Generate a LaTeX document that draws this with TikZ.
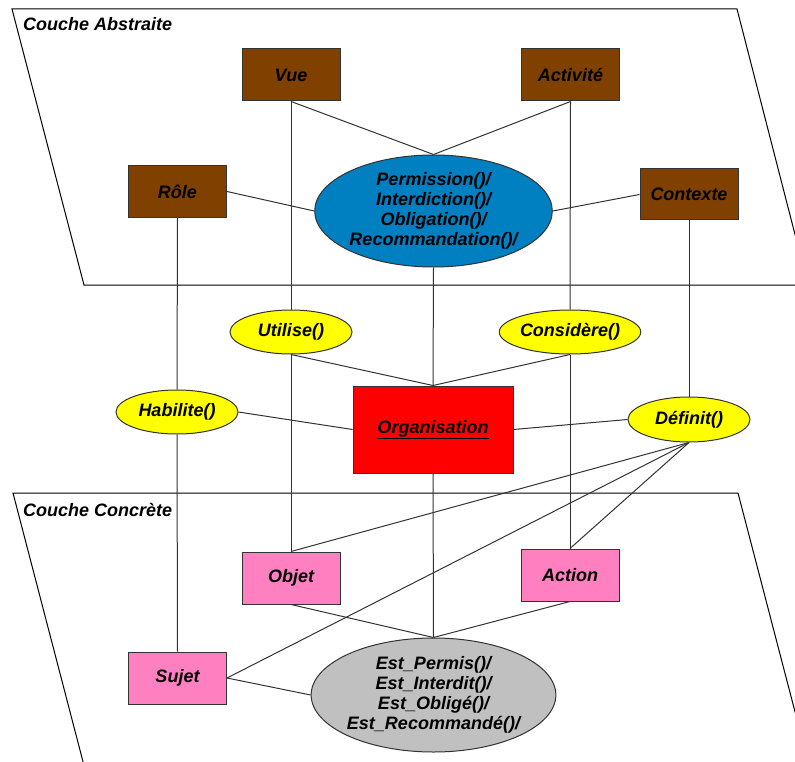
\documentclass[tikz,border=0pt]{standalone}
\usepackage{fontspec}
\setmainfont{Liberation Sans}
\usetikzlibrary{shapes.geometric,backgrounds}

\definecolor{absbrown}{HTML}{804000}
\definecolor{permblue}{HTML}{0080C0}
\definecolor{linkyellow}{HTML}{FFFF00}
\definecolor{orgred}{HTML}{FF0000}
\definecolor{concpink}{HTML}{FF80C0}
\definecolor{estgray}{HTML}{C0C0C0}
\definecolor{linegray}{HTML}{333333}

\tikzset{
  lbl/.style={font=\fontsize{18}{20}\selectfont\bfseries\itshape, text=black},
  entity/.style={lbl, rectangle, draw=linegray, line width=1pt, inner sep=0pt,
                 minimum width=98pt, minimum height=52pt},
  abstract/.style={entity, fill=absbrown},
  concrete/.style={entity, fill=concpink},
  relation/.style={lbl, ellipse, draw=linegray, line width=1pt, inner sep=0pt,
                   fill=linkyellow, minimum width=122pt, minimum height=44pt},
  bigoval/.style={lbl, ellipse, draw=linegray, line width=1pt, inner sep=0pt,
                  align=center, minimum width=233pt},
  link/.style={draw=linegray, line width=1pt},
  layer/.style={draw=black, line width=1pt},
  layertitle/.style={lbl, anchor=base west, inner sep=0pt}
}

\begin{document}
\begin{tikzpicture}[x=1pt, y=-1pt]
  \useasboundingbox (0,0) rectangle (795,762);

  % abstract layer entities
  \node[abstract] (vue) at (291,75) {Vue};
  \node[abstract] (activite) at (570.5,75) {Activité};
  \node[abstract] (role) at (177.5,191.5) {Rôle};
  \node[abstract, minimum height=51pt] (contexte) at (689,194.5) {Contexte};
  \node[bigoval, fill=permblue, minimum height=112pt] (perm) at (433.5,211)
    {Permission()/\\Interdiction()/\\Obligation()/\\Recommandation()/};

  % relations between the layers
  \node[relation] (utilise) at (291,332) {Utilise()};
  \node[relation] (considere) at (570,332) {Considère()};
  \node[relation] (habilite) at (177,412) {Habilite()};
  \node[relation, minimum height=45pt] (definit) at (689,419.5) {Définit()};
  \node[lbl, rectangle, draw=linegray, line width=1pt, fill=orgred, inner sep=0pt,
        minimum width=160pt, minimum height=87pt] (org) at (433,429.5)
    {\underline{Organisation}};

  % concrete layer entities
  \node[concrete] (objet) at (291,578) {Objet};
  \node[concrete] (action) at (570,575) {Action};
  \node[concrete] (sujet) at (177.5,678) {Sujet};
  \node[bigoval, fill=estgray, minimum height=114pt] (est) at (433.5,695)
    {Est\_Permis()/\\Est\_Interdit()/\\Est\_Obligé()/\\Est\_Recommandé()/};

  \begin{scope}[on background layer]
    % the two layers
    \begin{scope}
      \clip (0,0) rectangle (795,762);
      \draw[layer] (12,9) -- (737,9) -- (808,285) -- (84,285) -- cycle;
      \draw[layer] (13,493) -- (738,493) -- (818,800) -- (93,800) -- cycle;
    \end{scope}
    \node[layertitle] (abstitle) at (23,31) {Couche Abstraite};
    \node[layertitle] (conctitle) at (23,516) {Couche Concrète};

    % abstract layer links
    \draw[link] (vue.south) -- (perm.north);
    \draw[link] (activite.south) -- (perm.north);
    \draw[link] (role.east) -- (perm.west);
    \draw[link] (contexte.west) -- (perm.east);

    % vertical chains through the relations
    \draw[link] (vue.south) -- (utilise.north);
    \draw[link] (utilise.south) -- (objet.north);
    \draw[link] (activite.south) -- (considere.north);
    \draw[link] (considere.south) -- (action.north);
    \draw[link] (role.south) -- (habilite.north);
    \draw[link] (habilite.south) -- (sujet.north);
    \draw[link] (contexte.south) -- (definit.north);

    % organisation links
    \draw[link] (perm.south) -- (org.north);
    \draw[link] (utilise.south) -- (org.north);
    \draw[link] (considere.south) -- (org.north);
    \draw[link] (habilite.east) -- (org.west);
    \draw[link] (definit.west) -- (org.east);
    \draw[link] (org.south) -- (est.north);

    % definit links towards the concrete layer
    \draw[link] (definit.south) -- (sujet.east);
    \draw[link] (definit.south) -- (objet.north);
    \draw[link] (definit.south) -- (action.north);

    % concrete layer links
    \draw[link] (objet.south) -- (est.north);
    \draw[link] (action.south) -- (est.north);
    \draw[link] (sujet.east) -- (est.west);
  \end{scope}
\end{tikzpicture}
\end{document}
